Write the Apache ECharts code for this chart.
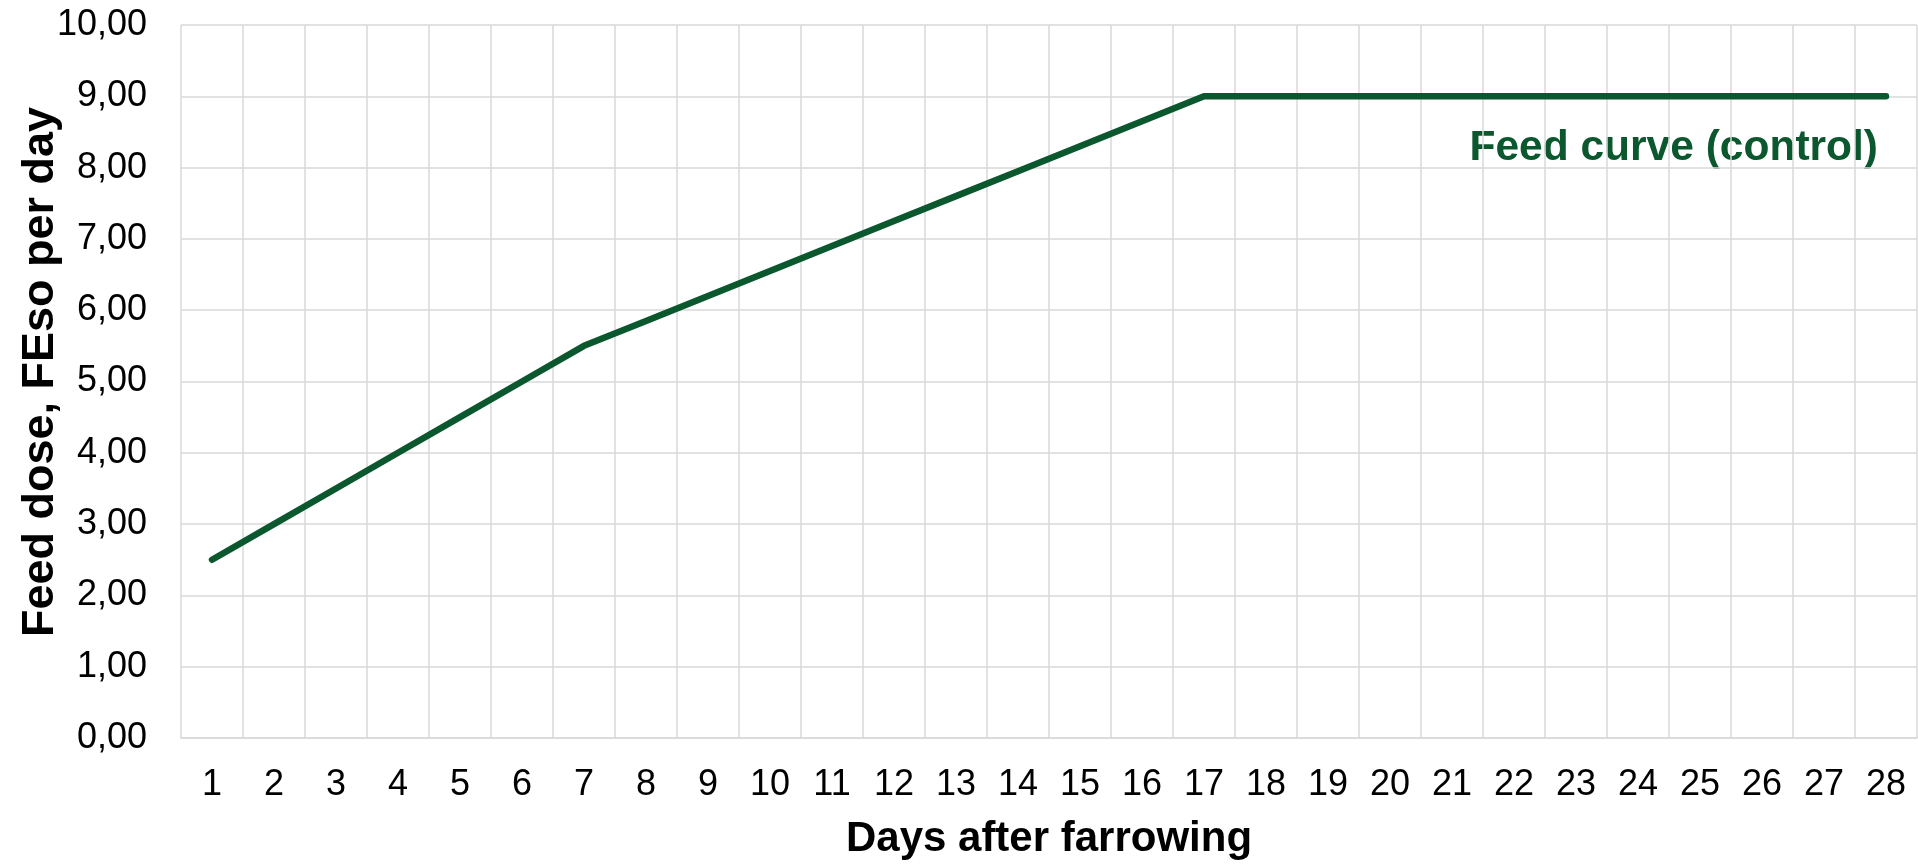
<!DOCTYPE html>
<html>
<head>
<meta charset="utf-8">
<title>Feed curve</title>
<script src="https://cdn.jsdelivr.net/npm/echarts@6/dist/echarts.min.js"></script>
<style>
  html, body { margin: 0; padding: 0; background: #ffffff; overflow: hidden; }
  #chart { width: 1918px; height: 865px; }
</style>
</head>
<body>
<div id="chart"></div>
<script>
// Days after farrowing (category axis)
const days = ['1','2','3','4','5','6','7','8','9','10','11','12','13','14',
              '15','16','17','18','19','20','21','22','23','24','25','26','27','28'];

// Feed dose, FEso per day, for each day
const feedControl = [2.5, 3.0, 3.5, 4.0, 4.5, 5.0, 5.5, 5.85, 6.2, 6.55, 6.9, 7.25, 7.6, 7.95,
                     8.3, 8.65, 9.0, 9.0, 9.0, 9.0, 9.0, 9.0, 9.0, 9.0, 9.0, 9.0, 9.0, 9.0];

// Value axis tick values
const yTicks = [0, 1, 2, 3, 4, 5, 6, 7, 8, 9, 10];

const seriesName = 'Feed curve (control)';
const xTitle = 'Days after farrowing';
const yTitle = 'Feed dose, FEso per day';

const FONT = '"Liberation Sans", Arial, sans-serif';
const GREEN = '#0B572E';
const GRID_GREY = '#D9D9D9';

const chart = echarts.init(document.getElementById('chart'), null, { renderer: 'canvas' });

chart.setOption({
  backgroundColor: '#ffffff',
  animation: false,
  grid: { left: 181, right: 1, top: 25, bottom: 117, containLabel: false },
  xAxis: {
    type: 'category',
    data: days,
    boundaryGap: true,
    name: xTitle,
    nameLocation: 'middle',
    nameGap: 80,
    nameTextStyle: { fontFamily: FONT, fontSize: 42, fontWeight: 'bold', color: '#000' },
    axisLine: { show: true, lineStyle: { color: GRID_GREY, width: 1.5 } },
    axisTick: { show: false },
    axisLabel: { fontFamily: FONT, fontSize: 36, color: '#000', margin: 29, interval: 0 },
    splitLine: { show: true, interval: 0, lineStyle: { color: GRID_GREY, width: 1.5 } }
  },
  yAxis: {
    type: 'value',
    min: yTicks[0],
    max: yTicks[yTicks.length - 1],
    interval: yTicks[1] - yTicks[0],
    axisLine: { show: false },
    axisTick: { show: false },
    axisLabel: {
      fontFamily: FONT, fontSize: 36, color: '#000', margin: 34,
      formatter: v => v.toFixed(2).replace('.', ',')
    },
    splitLine: { show: true, lineStyle: { color: GRID_GREY, width: 1.5 } }
  },
  graphic: [{
    // value axis title, rotated to read bottom-to-top
    type: 'text',
    x: 41,
    y: 372,
    rotation: Math.PI / 2,
    style: {
      text: yTitle,
      fontFamily: FONT,
      fontSize: 45,
      fontWeight: 'bold',
      fill: '#000',
      align: 'center',
      verticalAlign: 'middle'
    }
  }, {
    type: 'text',
    right: 40,
    top: 127,
    style: {
      text: seriesName,
      fontFamily: FONT,
      fontSize: 42.5,
      fontWeight: 'bold',
      fill: GREEN
    }
  }],
  series: [{
    name: seriesName,
    type: 'line',
    data: feedControl,
    symbol: 'none',
    lineStyle: { color: GREEN, width: 6.5, cap: 'round', join: 'round' },
    itemStyle: { color: GREEN }
  }]
});
</script>
</body>
</html>
